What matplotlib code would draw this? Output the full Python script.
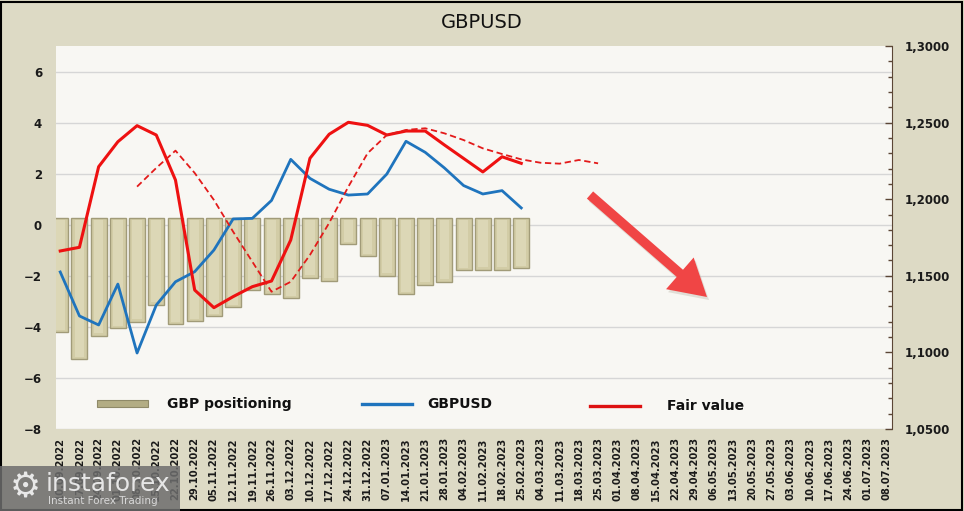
import matplotlib.pyplot as plt
import numpy as np
from matplotlib.patches import Rectangle, FancyArrow
from matplotlib.lines import Line2D
from matplotlib.ticker import FuncFormatter, MultipleLocator

# weekly dates on the category axis
dates = ["10.09.2022", "17.09.2022", "24.09.2022", "01.10.2022", "08.10.2022",
         "15.10.2022", "22.10.2022", "29.10.2022", "05.11.2022", "12.11.2022",
         "19.11.2022", "26.11.2022", "03.12.2022", "10.12.2022", "17.12.2022",
         "24.12.2022", "31.12.2022", "07.01.2023", "14.01.2023", "21.01.2023",
         "28.01.2023", "04.02.2023", "11.02.2023", "18.02.2023", "25.02.2023",
         "04.03.2023", "11.03.2023", "18.03.2023", "25.03.2023", "01.04.2023",
         "08.04.2023", "15.04.2023", "22.04.2023", "29.04.2023", "06.05.2023",
         "13.05.2023", "20.05.2023", "27.05.2023", "03.06.2023", "10.06.2023",
         "17.06.2023", "24.06.2023", "01.07.2023", "08.07.2023"]

# GBP net positioning (left axis)
positioning = [-4.21, -5.27, -4.35, -4.06, -3.80, -3.14, -3.90, -3.78, -3.58, -3.23,
               -2.55, -2.71, -2.88, -2.07, -2.20, -0.76, -1.24, -2.00, -2.72, -2.35,
               -2.24, -1.79, -1.77, -1.76, -1.70]

# GBPUSD spot (right axis)
gbpusd = [1.1525, 1.1238, 1.1179, 1.1446, 1.0996, 1.1309, 1.1461, 1.1527, 1.1668, 1.1871,
          1.1875, 1.1992, 1.2260, 1.2136, 1.2065, 1.2027, 1.2034, 1.2164, 1.2378, 1.2306,
          1.2204, 1.2089, 1.2034, 1.2056, 1.1943]

# fair value (right axis)
fair_value = [1.1662, 1.1686, 1.2212, 1.2375, 1.2480, 1.2419, 1.2125, 1.1407, 1.1292, 1.1364,
              1.1429, 1.1466, 1.1734, 1.2267, 1.2424, 1.2502, 1.2482, 1.2419, 1.2445, 1.2445,
              1.2354, 1.2266, 1.2178, 1.2277, 1.2234]

# smoothed fair value, starts at 08.10.2022 and runs to 25.03.2023
fair_trend_start = 4
fair_trend = [1.2082, 1.2204, 1.2317, 1.2171, 1.1995, 1.1788, 1.1592, 1.1396, 1.1461,
              1.1636, 1.1845, 1.2082, 1.2300, 1.2419, 1.2452, 1.2463, 1.2430, 1.2386,
              1.2332, 1.2295, 1.2260, 1.2238, 1.2232, 1.2256, 1.2234]

W, H = 964, 511
bg = "#dddac5"
fig = plt.figure(figsize=(W / 100, H / 100), dpi=100, facecolor=bg)
ax = fig.add_axes([56 / W, 1 - 429 / H, (892 - 56) / W, (429 - 46) / H])
ax.set_facecolor("#f8f7f3")
ax2 = ax.twinx()

# bars with a simple bevel look
x_bar = np.arange(len(positioning))
bar_top = 0.27
ax.bar(x_bar, np.array(positioning) - bar_top, bottom=bar_top, width=0.83,
       color="#d2cca6", edgecolor="#a19b78", linewidth=1.0, zorder=2)
ax.bar(x_bar, np.array(positioning) - bar_top + 0.2, bottom=bar_top - 0.1, width=0.5,
       color="#dcd7b6", linewidth=0, zorder=2)

ax.set_xlim(-0.22, 43.3)
ax.set_ylim(-8, 7)
ax.set_yticks(range(-8, 7, 2))
ax.yaxis.grid(True, color="#d6d6d6", linewidth=1.0, zorder=0)
ax.set_axisbelow(True)
ax.set_xticks(range(len(dates)))
ax.set_xticklabels(dates, rotation=90, fontsize=7.2, fontweight="bold", color="#1a1a1a")
ax.tick_params(axis="x", length=0, pad=6)
ax.tick_params(axis="y", length=0, pad=10, labelsize=8.5, labelcolor="#1a1a1a")
for lab in ax.get_yticklabels():
    lab.set_fontweight("bold")
for s in ax.spines.values():
    s.set_visible(False)

# lines on the right axis
x_line = np.arange(len(gbpusd))
ax2.plot(x_line, gbpusd, color="#1f74bd", linewidth=2.0, zorder=3)
ax2.plot(x_line, fair_value, color="#ee1111", linewidth=2.2, zorder=4)
x_trend = np.arange(fair_trend_start, fair_trend_start + len(fair_trend))
ax2.plot(x_trend, fair_trend, color="#e31a1a", linewidth=1.3, linestyle=(0, (3.5, 2)), zorder=4)

ax2.set_ylim(1.05, 1.30)
ax2.yaxis.set_major_locator(MultipleLocator(0.05))
ax2.yaxis.set_minor_locator(MultipleLocator(0.01))
ax2.yaxis.set_major_formatter(FuncFormatter(lambda v, p: f"{v:.4f}".replace(".", ",")))
ax2.tick_params(axis="y", which="major", direction="in", length=5, width=1,
                color="#5b4636", pad=9, labelsize=8.5, labelcolor="#1a1a1a")
ax2.tick_params(axis="y", which="minor", direction="in", length=3, width=1, color="#5b4636")
for lab in ax2.get_yticklabels():
    lab.set_fontweight("bold")
for name, s in ax2.spines.items():
    s.set_visible(name == "right")
ax2.spines["right"].set_color("#5b4636")

# trend arrow, in pixel-like inches so its shape is not stretched
px = fig.dpi_scale_trans
x0, y0, x1, y1 = 590, 195, 707, 297
shadow = FancyArrow((x0 + 2) / 100, (H - y0 - 3) / 100, (x1 - x0) / 100, -(y1 - y0) / 100,
                    width=0.095, head_width=0.42, head_length=0.36,
                    length_includes_head=True, transform=px,
                    color="#b8b0a0", alpha=0.35, linewidth=0, zorder=9)
arrow = FancyArrow(x0 / 100, (H - y0) / 100, (x1 - x0) / 100, -(y1 - y0) / 100,
                   width=0.095, head_width=0.42, head_length=0.36,
                   length_includes_head=True, transform=px,
                   color="#f04545", linewidth=0, zorder=10)
fig.patches.extend([shadow, arrow])

# legend drawn by hand
fig.patches.append(Rectangle((97 / W, 1 - 407 / H), 51 / W, 7 / H,
                             transform=fig.transFigure, facecolor="#b3ad84",
                             edgecolor="#8f8a68", linewidth=0.8))
fig.text(167 / W, 1 - 404 / H, "GBP positioning", fontsize=10, fontweight="bold",
         va="center", ha="left", color="#111111")
fig.lines.append(Line2D([362 / W, 412 / W], [1 - 404 / H] * 2, transform=fig.transFigure,
                        color="#1f74bd", linewidth=2.4))
fig.text(427 / W, 1 - 404 / H, "GBPUSD", fontsize=10, fontweight="bold",
         va="center", ha="left", color="#111111")
fig.lines.append(Line2D([590 / W, 640 / W], [1 - 406 / H] * 2, transform=fig.transFigure,
                        color="#dd1111", linewidth=2.4))
fig.text(667 / W, 1 - 406 / H, "Fair value", fontsize=10, fontweight="bold",
         va="center", ha="left", color="#111111")

# title
fig.text(0.5, 1 - 22 / H, "GBPUSD", fontsize=14, ha="center", va="center", color="#111111")

# outer border
fig.patches.append(Rectangle((1 / W, 1 / H), 961 / W, 508 / H, transform=fig.transFigure,
                             fill=False, edgecolor="black", linewidth=1.5))

# watermark logo
fig.patches.append(Rectangle((0, 0), 180 / W, 45 / H, transform=fig.transFigure,
                             facecolor="#6d6d6d", alpha=0.85, linewidth=0, zorder=20))
fig.text(25 / W, 1 - 487 / H, "\u2699", fontsize=25, color="#e8e8e8", ha="center",
         va="center", zorder=21)
fig.text(46 / W, 1 - 484 / H, "instaforex", fontsize=18, color="#e6e6e6", ha="left",
         va="center", zorder=21)
fig.text(48 / W, 1 - 501 / H, "Instant Forex Trading", fontsize=7.5, color="#d8d8d8",
         ha="left", va="center", zorder=21)

fig.savefig("out.png", dpi=100, facecolor=bg)
